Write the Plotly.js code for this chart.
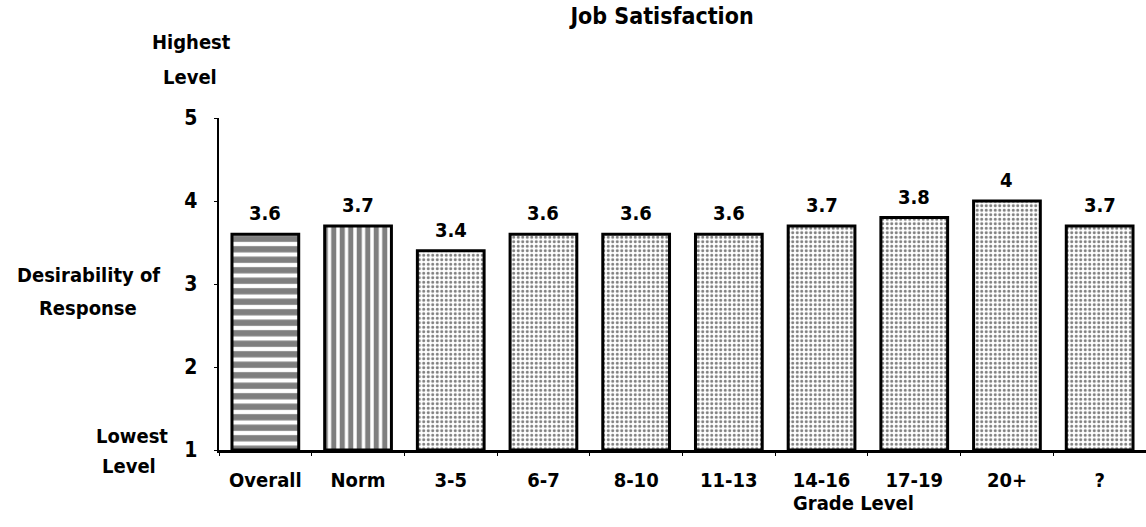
<!DOCTYPE html>
<html>
<head>
<meta charset="utf-8">
<script src="https://cdn.plot.ly/plotly-3.0.1.min.js"></script>
<style>html,body{margin:0;padding:0;background:#fff;}#chart{width:1146px;height:527px;}</style>
</head>
<body>
<div id="chart"></div>
<script>
// Data
const categories = ['Overall', 'Norm', '3-5', '6-7', '8-10', '11-13', '14-16', '17-19', '20+', '?'];
const values = [3.6, 3.7, 3.4, 3.6, 3.6, 3.6, 3.7, 3.8, 4, 3.7];
const valueLabels = ['3.6', '3.7', '3.4', '3.6', '3.6', '3.6', '3.7', '3.8', '4', '3.7'];
const patternShapes = ['-', '|', '.', '.', '.', '.', '.', '.', '.', '.'];
const yTicks = [1, 2, 3, 4, 5];

const FONT = '"DejaVu Sans Condensed", "DejaVu Sans", sans-serif';
const base = 1;
const T = 118, B = 450;

const trace = {
  type: 'bar',
  x: categories,
  y: values.map(v => v - base),
  base: base,
  width: 0.72,
  marker: {
    color: 'white',
    line: {color: 'black', width: 3},
    pattern: {
      shape: patternShapes,
      fgcolor: 'black',
      bgcolor: 'white',
      fillmode: 'overlay',
      size: patternShapes.map(s => s === '.' ? 4.5 : (s === '-' ? 10.5 : 8.5)),
      solidity: patternShapes.map(s => s === '.' ? 0.35 : 0.6)
    }
  },
  hoverinfo: 'none',
  cliponaxis: false
};

const annotations = categories.map((c, i) => ({
  x: c, y: values[i], xref: 'x', yref: 'y',
  text: valueLabels[i], showarrow: false,
  yanchor: 'bottom', yshift: 7,
  font: {family: FONT, size: 20, weight: 'bold', color: 'black'}
}));

function note(text, px, py, size) {
  return {
    xref: 'paper', yref: 'paper',
    x: (px - 219) / 927, y: (B - py) / (B - T),
    xanchor: 'center', yanchor: 'middle',
    text: text, showarrow: false,
    font: {family: FONT, size: size || 20, weight: 'bold', color: 'black'}
  };
}
annotations.push(note('Highest', 191, 42));
annotations.push(note('Level', 190, 77));
annotations.push(note('Desirability of', 88, 275));
annotations.push(note('Response', 88, 308));
annotations.push(note('Lowest', 132, 436));
annotations.push(note('Level', 129, 466));
annotations.push(note('Grade Level', 853, 503));

const layout = {
  width: 1146, height: 527,
  margin: {l: 219, r: 0, t: T, b: 527 - B},
  paper_bgcolor: 'white', plot_bgcolor: 'white',
  showlegend: false,
  title: {
    text: 'Job Satisfaction',
    x: 662 / 1146, xanchor: 'center', xref: 'container',
    y: 1 - 16 / 527, yanchor: 'middle', yref: 'container',
    font: {family: FONT, size: 23, weight: 'bold', color: 'black'}
  },
  xaxis: {
    type: 'category',
    showline: true, linecolor: 'black', linewidth: 2.5,
    showgrid: false, zeroline: false,
    ticks: 'outside', ticklen: 3, tickcolor: 'black', tickson: 'boundaries',
    ticklabelstandoff: 10,
    tickfont: {family: FONT, size: 20, weight: 'bold', color: 'black'},
    fixedrange: true
  },
  yaxis: {
    range: [1, 5],
    tickvals: yTicks,
    ticktext: yTicks.map(String),
    showline: true, linecolor: 'black', linewidth: 2.5,
    showgrid: false, zeroline: false,
    ticks: 'outside', ticklen: 3, tickcolor: 'black',
    ticklabelstandoff: 12,
    tickfont: {family: FONT, size: 21, weight: 'bold', color: 'black'},
    fixedrange: true
  },
  annotations: annotations,
  bargap: 0.3
};

Plotly.newPlot('chart', [trace], layout, {displayModeBar: false, staticPlot: true});
</script>
</body>
</html>
